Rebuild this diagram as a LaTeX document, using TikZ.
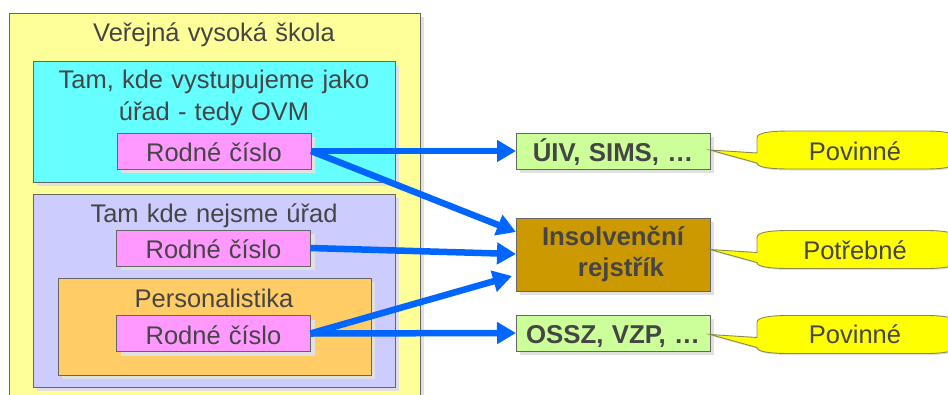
\documentclass[tikz,border=0pt]{standalone}
\usepackage{fontspec}
\setmainfont{Liberation Sans}[WordSpace=1.15]
\usetikzlibrary{arrows.meta,shadows}
\definecolor{txt}{HTML}{454545}
\definecolor{edge}{HTML}{666666}
\definecolor{shade}{HTML}{E0E0E0}
\definecolor{arrowblue}{HTML}{0066FF}
\definecolor{rc}{HTML}{FF99FF}
\definecolor{tgreen}{HTML}{CCFF99}
\definecolor{calloutedge}{HTML}{8A8A50}
\definecolor{calloutfill}{HTML}{FFFF00}
\definecolor{outerfill}{HTML}{FFFF99}
\definecolor{ovmfill}{HTML}{66FFFF}
\definecolor{notfill}{HTML}{CCCCFF}
\definecolor{persfill}{HTML}{FFCC66}
\definecolor{insfill}{HTML}{CC9900}
\tikzset{
  box/.style={draw=edge,line width=0.9pt,inner sep=0pt,outer sep=0pt,rectangle,text=txt,
    font=\fontsize{25.5}{30}\selectfont,
    drop shadow={shadow xshift=4pt,shadow yshift=-4pt,fill=shade,opacity=1}},
  rcbox/.style={box,fill=rc,minimum width=194pt,minimum height=36pt,text height=21pt,text depth=0pt},
  tgt/.style={box,fill=tgreen,minimum width=194pt,minimum height=36pt,text height=21pt,text depth=0pt,
    font=\fontsize{25.8}{30}\selectfont\bfseries},
  lbl/.style={anchor=base,inner sep=0pt,text=txt,font=\fontsize{25.5}{30}\selectfont},
  flow/.style={draw=arrowblue,line width=6.5pt,-{Triangle[length=19pt,width=21pt]}},
  callout/.style={draw=calloutedge,line width=0.9pt,fill=calloutfill,
    drop shadow={shadow xshift=1.5pt,shadow yshift=-1.5pt,fill=shade,opacity=1}},
}
\newcommand{\mycallout}[1]{%
  \path[callout] (710,#1) -- (757,#1+3) -- (757,#1-12)
    .. controls (757,#1-17) and (768,#1-19) .. (790,#1-19) -- (925,#1-19)
    .. controls (945,#1-19) and (955,#1-17) .. (955,#1-12) -- (955,#1+12)
    .. controls (955,#1+17) and (945,#1+19) .. (925,#1+19) -- (790,#1+19)
    .. controls (768,#1+19) and (757,#1+17) .. (757,#1+13) -- cycle;}
\begin{document}
\begin{tikzpicture}[x=1pt,y=-1pt]
\clip (0,0) rectangle (948,394);
\node[box,fill=outerfill,minimum width=411pt,minimum height=400pt] (outer) at (214.5,213) {};
\node[box,fill=ovmfill,minimum width=362pt,minimum height=121pt] (ovm) at (214,121.5) {};
\node[box,fill=notfill,minimum width=362pt,minimum height=193pt] (notovm) at (214,290.5) {};
\node[box,fill=persfill,minimum width=313pt,minimum height=97pt] (pers) at (214.5,326.5) {};
\node[lbl] (touter) at (214,41) {Veřejná vysoká škola};
\node[lbl] (tovma) at (214,88) {Tam, kde vystupujeme jako};
\node[lbl] (tovmb) at (214,120) {úřad - tedy OVM};
\node[lbl] (tnot) at (214,222) {Tam kde nejsme úřad};
\node[lbl] (tpers) at (214,307) {Personalistika};
\node[rcbox] (rca) at (214,151) {Rodné číslo};
\node[rcbox] (rcb) at (213.5,248) {Rodné číslo};
\node[rcbox] (rcc) at (213.5,333.5) {Rodné číslo};
\node[tgt] (uiv) at (613,151) {ÚIV, SIMS, …};
\node[tgt] (ossz) at (613,333) {OSSZ, VZP, …};
\node[box,fill=insfill,minimum width=194pt,minimum height=73pt,align=center,
  font=\fontsize{25.8}{31}\selectfont\bfseries] (ins) at (613,254.5) {Insolvenční\\\hspace*{16pt}rejstřík};
\mycallout{150}
\mycallout{249.5}
\mycallout{334.5}
\node[lbl] (pa) at (855,160) {Povinné};
\node[lbl] (pb) at (855,259) {Potřebné};
\node[lbl] (pc) at (855,343) {Povinné};
\coordinate (insa) at (516,232);
\coordinate (insb) at (516,254);
\coordinate (insc) at (512,276);
\draw[flow] (rca.east) -- (uiv.west);
\draw[flow] (rca.east) -- (insa);
\draw[flow] (rcb.east) -- (insb);
\draw[flow] (rcc.east) -- (insc);
\draw[flow] (rcc.east) -- (ossz.west);
\end{tikzpicture}
\end{document}
